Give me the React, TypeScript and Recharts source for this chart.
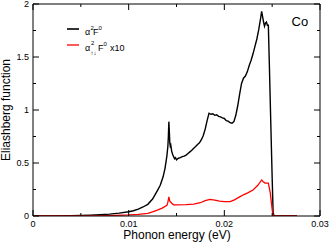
import React from 'react';
import { LineChart, Line, XAxis, YAxis, ReferenceLine } from 'recharts';

// ---- data ----
const energyTotal = [
  0, 0.002, 0.004, 0.006, 0.007, 0.008, 0.009, 0.010, 0.0105, 0.011, 0.0115, 0.012, 0.0125, 0.013, 0.0133,
  0.0136, 0.0138, 0.014, 0.0141, 0.01415, 0.0142, 0.01425, 0.0143, 0.01435, 0.0144, 0.0145, 0.0146, 0.0147,
  0.0148, 0.0149, 0.015, 0.0152, 0.0154, 0.0156, 0.0158, 0.016, 0.0162, 0.0164, 0.0166, 0.0168, 0.017, 0.0172,
  0.0174, 0.0176, 0.0178, 0.018, 0.0182, 0.0184, 0.0186, 0.0188, 0.019, 0.0192, 0.0194, 0.0196, 0.0198, 0.02,
  0.0202, 0.0204, 0.0206, 0.0208, 0.021, 0.0212, 0.0214, 0.0216, 0.0218, 0.022, 0.0222, 0.0224, 0.0226, 0.0228,
  0.023, 0.0232, 0.0234, 0.0236, 0.0238, 0.0239, 0.024, 0.0241, 0.0242, 0.0243, 0.0244, 0.0245, 0.0246, 0.0247,
  0.0248, 0.0249, 0.025, 0.0251, 0.0252, 0.0276,
];
const alpha2F = [
  0, 0.001, 0.003, 0.008, 0.012, 0.018, 0.027, 0.04, 0.05, 0.065, 0.085, 0.11, 0.16, 0.24, 0.29,
  0.37, 0.45, 0.57, 0.66, 0.75, 0.89, 0.8, 0.69, 0.66, 0.67, 0.61, 0.58, 0.56,
  0.54, 0.55, 0.53, 0.545, 0.55, 0.56, 0.565, 0.575, 0.59, 0.605, 0.62, 0.64, 0.655, 0.675,
  0.69, 0.72, 0.76, 0.82, 0.9, 0.97, 0.96, 0.965, 0.95, 0.955, 0.94, 0.935, 0.925, 0.92,
  0.9, 0.895, 0.88, 0.875, 0.89, 0.95, 1.04, 1.15, 1.25, 1.3, 1.32, 1.36, 1.42, 1.47,
  1.53, 1.6, 1.67, 1.76, 1.87, 1.93, 1.88, 1.83, 1.79, 1.82, 1.83, 1.8, 1.8, 1.45,
  1.08, 0.72, 0.36, 0.03, 0, 0,
];

const energySpin = [
  0, 0.006, 0.008, 0.01, 0.011, 0.012, 0.0125, 0.013, 0.0135, 0.014, 0.0141, 0.0142, 0.0143, 0.0145, 0.0147,
  0.015, 0.016, 0.0168, 0.0175, 0.018, 0.0185, 0.019, 0.0195, 0.02, 0.0206, 0.021, 0.0216, 0.022, 0.0225,
  0.023, 0.0235, 0.0239, 0.0241, 0.02425, 0.0244, 0.0246, 0.0248, 0.025, 0.0251, 0.0276,
];
const alpha2FupDown = [
  0, 0.0, 0.004, 0.01, 0.016, 0.025, 0.04, 0.055, 0.075, 0.1, 0.13, 0.18, 0.14, 0.12, 0.105,
  0.105, 0.108, 0.112, 0.125, 0.145, 0.157, 0.15, 0.14, 0.135, 0.135, 0.15, 0.18, 0.2, 0.22,
  0.245, 0.29, 0.34, 0.32, 0.31, 0.31, 0.31, 0.22, 0.06, 0, 0,
];

const xTicks = [0, 0.005, 0.01, 0.015, 0.02, 0.025, 0.03];
const xTickLabels = ['0', '', '0.01', '', '0.02', '', '0.03'];
const yTicks = [0, 0.25, 0.5, 0.75, 1, 1.25, 1.5, 1.75, 2];
const yTickLabels = ['0', '', '0.5', '', '1', '', '1.5', '', '2'];

const totalData = energyTotal.map((e, i) => ({ e, v: alpha2F[i] }));
const spinData = energySpin.map((e, i) => ({ e, v: alpha2FupDown[i] }));

// ---- layout ----
const W = 332;
const H = 243;
const M = { top: 4, right: 12, bottom: 0, left: 0 };
const Y_AXIS_W = 33;
const X_AXIS_H = 27;
const PLOT_TOP = M.top;
const PLOT_RIGHT = W - M.right;
const FONT = '"Liberation Sans", Arial, Helvetica, sans-serif';

const XTick = (props: any) => {
  const { x, y, payload } = props;
  const label = xTickLabels[xTicks.indexOf(payload.value)] ?? '';
  const major = label !== '';
  const len = major ? 6 : 3;
  return (
    <g>
      <line x1={x} x2={x} y1={y} y2={y - len} stroke="#000" strokeWidth={1} />
      <line x1={x} x2={x} y1={PLOT_TOP} y2={PLOT_TOP + len} stroke="#000" strokeWidth={1} />
      {major && (
        <text x={x} y={y + 11} textAnchor="middle" fontSize={9} fontFamily={FONT} fill="#000">
          {label}
        </text>
      )}
    </g>
  );
};

const YTick = (props: any) => {
  const { x, y, payload } = props;
  const label = yTickLabels[yTicks.indexOf(payload.value)] ?? '';
  const major = label !== '';
  const len = major ? 6 : 3;
  return (
    <g>
      <line x1={x} x2={x + len} y1={y} y2={y} stroke="#000" strokeWidth={1} />
      <line x1={PLOT_RIGHT} x2={PLOT_RIGHT - len} y1={y} y2={y} stroke="#000" strokeWidth={1} />
      {major && (
        <text x={x - 4} y={y + 3.2} textAnchor="end" fontSize={9} fontFamily={FONT} fill="#000">
          {label}
        </text>
      )}
    </g>
  );
};

export default function App() {
  return (
    <div style={{ position: 'absolute', left: 0, top: 0, width: W, height: H, background: '#fff' }}>
      <LineChart width={W} height={H} margin={M}>
        <XAxis
          type="number"
          dataKey="e"
          domain={[0, 0.03]}
          ticks={xTicks}
          interval={0}
          allowDataOverflow
          height={X_AXIS_H}
          tickSize={0}
          tickMargin={0}
          tickLine={false}
          axisLine={{ stroke: '#000', strokeWidth: 1 }}
          tick={<XTick />}
        />
        <YAxis
          type="number"
          domain={[0, 2]}
          ticks={yTicks}
          interval={0}
          allowDataOverflow
          width={Y_AXIS_W}
          tickSize={0}
          tickMargin={0}
          tickLine={false}
          axisLine={{ stroke: '#000', strokeWidth: 1 }}
          tick={<YTick />}
        />
        <ReferenceLine y={2} stroke="#000" strokeWidth={1} />
        <ReferenceLine x={0.03} stroke="#000" strokeWidth={1} />
        <Line
          data={totalData}
          dataKey="v"
          type="linear"
          stroke="#000"
          strokeWidth={1.4}
          dot={false}
          isAnimationActive={false}
        />
        <Line
          data={spinData}
          dataKey="v"
          type="linear"
          stroke="#ff0000"
          strokeWidth={1.3}
          dot={false}
          isAnimationActive={false}
        />
      </LineChart>
      <svg
        width={W}
        height={H}
        style={{ position: 'absolute', left: 0, top: 0, pointerEvents: 'none' }}
        fontFamily={FONT}
      >
        {/* axis titles */}
        <text x={177} y={239} textAnchor="middle" fontSize={12} fill="#000">
          Phonon energy (eV)
        </text>
        <text transform="rotate(-90)" x={-110} y={10} textAnchor="middle" fontSize={12} fill="#000">
          Eliashberg function
        </text>
        {/* element label */}
        <text x={291.5} y={26} fontSize={13} fill="#000">Co</text>
        {/* legend */}
        <line x1={67} x2={79} y1={29} y2={29} stroke="#333" strokeWidth={2} />
        <text x={85} y={35} fontSize={9} fill="#000">α</text>
        <text x={90.5} y={30} fontSize={6} fill="#000">2</text>
        <text x={93} y={35} fontSize={9} fill="#000">F</text>
        <text x={98.5} y={30} fontSize={6} fill="#000">0</text>

        <line x1={67} x2={79} y1={45} y2={45} stroke="#ff0000" strokeWidth={1.3} />
        <text x={85} y={50.5} fontSize={9} fill="#000">α</text>
        <text x={91} y={44.5} fontSize={6} fill="#000">2</text>
        <text x={90.5} y={54.5} fontSize={6} fill="#000">↑↓</text>
        <text x={98} y={50.5} fontSize={9} fill="#000">F</text>
        <text x={103.5} y={45.5} fontSize={6} fill="#000">0</text>
        <text x={110} y={50.5} fontSize={9} fill="#000">x10</text>
      </svg>
    </div>
  );
}
